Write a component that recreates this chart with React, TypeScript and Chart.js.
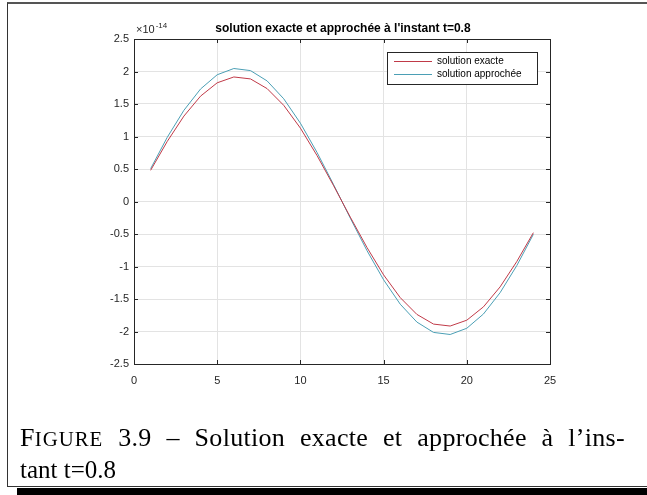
import React, { useEffect, useRef } from "react";
import { Chart, registerables } from "chart.js";

Chart.register(...registerables);

// ---- data (values in units of 1e-14) ----
const xValues = [1, 2, 3, 4, 5, 6, 7, 8, 9, 10, 11, 12, 13, 14, 15, 16, 17, 18, 19, 20, 21, 22, 23, 24];
const exactValues = [
  0.48, 0.925, 1.314, 1.621, 1.826, 1.916, 1.886, 1.737, 1.479, 1.129, 0.707, 0.241,
  -0.241, -0.707, -1.129, -1.479, -1.737, -1.886, -1.916, -1.826, -1.621, -1.314, -0.925, -0.48,
];
const approxValues = [
  0.505, 0.988, 1.403, 1.731, 1.95, 2.046, 2.014, 1.855, 1.58, 1.205, 0.755, 0.257,
  -0.257, -0.755, -1.205, -1.58, -1.855, -2.014, -2.046, -1.95, -1.731, -1.403, -0.988, -0.505,
];
const seriesLabels = ["solution exacte", "solution approchée"];
const seriesColors = ["#c03a48", "#4b9fb5"];
const xTickMin = 0;
const xTickMax = 25;
const xTickStep = 5;
const yTickMin = -2.5;
const yTickMax = 2.5;
const yTickStep = 0.5;
const titleText = "solution exacte et approchée à l'instant t=0.8";
const exponentBase = "×10";
const exponentPower = "-14";
const captionLead = "F";
const captionSmallCaps = "IGURE";
const captionRest = " 3.9 – Solution exacte et approchée à l’ins-";
const captionLine2 = "tant t=0.8";

const AXIS_COLOR = "#262626";
const SANS = "'Liberation Sans', Arial, sans-serif";

const decorPlugin = {
  id: "matlabDecor",
  afterDraw(chart: any) {
    const ctx = chart.ctx as CanvasRenderingContext2D;
    const { left, right, top, bottom } = chart.chartArea;
    const xs = chart.scales.x;
    const ys = chart.scales.y;
    ctx.save();
    // box
    ctx.strokeStyle = AXIS_COLOR;
    ctx.lineWidth = 1;
    ctx.strokeRect(Math.round(left) + 0.5, Math.round(top) + 0.5, Math.round(right - left), Math.round(bottom - top));
    // inward ticks
    ctx.beginPath();
    xs.ticks.forEach((t: any) => {
      const px = Math.round(xs.getPixelForValue(t.value)) + 0.5;
      ctx.moveTo(px, bottom);
      ctx.lineTo(px, bottom - 4);
      ctx.moveTo(px, top);
      ctx.lineTo(px, top + 4);
    });
    ys.ticks.forEach((t: any) => {
      const py = Math.round(ys.getPixelForValue(t.value)) + 0.5;
      ctx.moveTo(left, py);
      ctx.lineTo(left + 4, py);
      ctx.moveTo(right, py);
      ctx.lineTo(right - 4, py);
    });
    ctx.stroke();

    // title
    ctx.fillStyle = "#000";
    ctx.font = `bold 12px ${SANS}`;
    ctx.textAlign = "center";
    ctx.textBaseline = "alphabetic";
    ctx.fillText(titleText, (left + right) / 2 + 1, top - 7);

    // exponent
    ctx.fillStyle = AXIS_COLOR;
    ctx.textAlign = "left";
    ctx.font = `11px ${SANS}`;
    ctx.fillText(exponentBase, left + 2, top - 6);
    const w = ctx.measureText(exponentBase).width;
    ctx.font = `8px ${SANS}`;
    ctx.fillText(exponentPower, left + 2 + w + 1, top - 11);

    // legend
    const bx = right - 163;
    const by = top + 13;
    const bw = 150;
    const bh = 32;
    ctx.fillStyle = "#fff";
    ctx.fillRect(bx, by, bw, bh);
    ctx.strokeStyle = AXIS_COLOR;
    ctx.strokeRect(bx + 0.5, by + 0.5, bw, bh);
    chart.data.datasets.forEach((ds: any, i: number) => {
      const ly = by + 9 + i * 13 + 0.5;
      ctx.strokeStyle = ds.borderColor;
      ctx.lineWidth = 1;
      ctx.beginPath();
      ctx.moveTo(bx + 7, ly);
      ctx.lineTo(bx + 45, ly);
      ctx.stroke();
      ctx.fillStyle = "#000";
      ctx.font = `10px ${SANS}`;
      ctx.textBaseline = "middle";
      ctx.fillText(ds.label, bx + 50, ly);
    });
    ctx.restore();
  },
};

export default function App() {
  const canvasRef = useRef<HTMLCanvasElement | null>(null);

  useEffect(() => {
    if (!canvasRef.current) return;
    const chart = new Chart(canvasRef.current, {
      type: "line",
      data: {
        datasets: [
          {
            label: seriesLabels[0],
            data: xValues.map((x, i) => ({ x, y: exactValues[i] })),
            borderColor: seriesColors[0],
            borderWidth: 1,
            pointRadius: 0,
            tension: 0,
            fill: false,
          },
          {
            label: seriesLabels[1],
            data: xValues.map((x, i) => ({ x, y: approxValues[i] })),
            borderColor: seriesColors[1],
            borderWidth: 1,
            pointRadius: 0,
            tension: 0,
            fill: false,
          },
        ],
      },
      options: {
        responsive: false,
        animation: false,
        devicePixelRatio: 1,
        layout: { padding: { left: 0, right: 97, top: 39, bottom: 106 } },
        plugins: { legend: { display: false }, title: { display: false }, tooltip: { enabled: false } },
        scales: {
          x: {
            type: "linear",
            min: xTickMin,
            max: xTickMax,
            ticks: {
              stepSize: xTickStep,
              color: AXIS_COLOR,
              font: { family: SANS, size: 11 },
              padding: 10,
              maxRotation: 0,
            },
            grid: { color: "#e3e3e3", drawTicks: false },
            border: { display: false },
            afterFit: (s: any) => {
              s.height = 25;
            },
          },
          y: {
            type: "linear",
            min: yTickMin,
            max: yTickMax,
            ticks: {
              stepSize: yTickStep,
              color: AXIS_COLOR,
              font: { family: SANS, size: 11 },
              padding: 5,
              callback: (v: any) => String(Math.round(Number(v) * 10) / 10),
            },
            grid: { color: "#e3e3e3", drawTicks: false },
            border: { display: false },
            afterFit: (s: any) => {
              s.width = 134;
            },
          },
        },
      },
      plugins: [decorPlugin],
    });
    return () => chart.destroy();
  }, []);

  return (
    <div style={{ position: "absolute", left: 0, top: 0, width: 647, height: 495, overflow: "hidden", background: "#fff" }}>
      <canvas ref={canvasRef} width={647} height={495} style={{ position: "absolute", left: 0, top: 0 }} />
      <div
        style={{
          position: "absolute",
          left: 7,
          top: 2,
          width: 660,
          height: 485,
          borderTop: "2px solid #555",
          borderLeft: "1.5px solid #333",
          borderBottom: "1px solid #333",
          boxSizing: "border-box",
        }}
      />
      <div style={{ position: "absolute", left: 17, top: 488, width: 640, height: 7, background: "#000" }} />
      <div
        style={{
          position: "absolute",
          left: 20,
          top: 422,
          width: 605,
          fontFamily: "'Liberation Serif', serif",
          fontSize: 26,
          lineHeight: "31px",
          whiteSpace: "nowrap",
          color: "#000",
        }}
      >
        <div style={{ textAlign: "justify", textAlignLast: "justify", whiteSpace: "normal", letterSpacing: "0.3px" }}>
          {captionLead}
          <span style={{ fontSize: "0.8em", letterSpacing: "1px" }}>{captionSmallCaps}</span>
          {captionRest}
        </div>
        <div style={{ fontSize: 25 }}>{captionLine2}</div>
      </div>
    </div>
  );
}
